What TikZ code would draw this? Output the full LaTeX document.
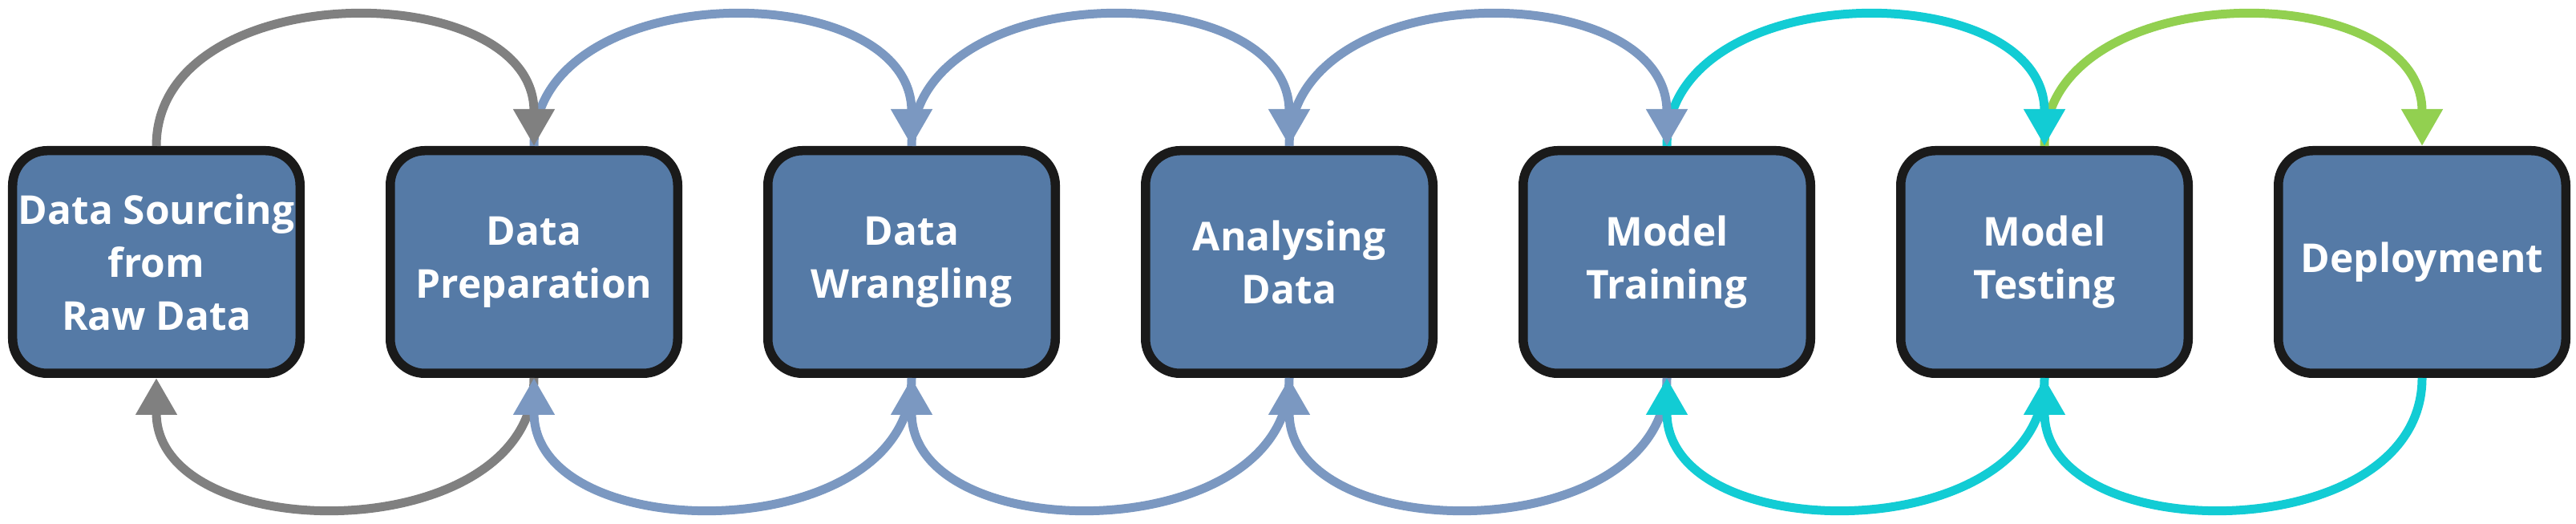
\documentclass[tikz,border=0pt]{standalone}
\usepackage{fontspec}
\setmainfont{Open Sans}
\usetikzlibrary{arrows.meta}
\definecolor{boxfill}{HTML}{557AA6}
\definecolor{boxline}{HTML}{1A1A1A}
\definecolor{flowgray}{HTML}{808080}
\definecolor{flowblue}{HTML}{7B98C1}
\definecolor{flowcyan}{HTML}{12CCD4}
\definecolor{flowgreen}{HTML}{92D050}
\begin{document}
\begin{tikzpicture}[>={Triangle[length=0.46cm,width=0.49cm]}, font=\fontsize{14.1}{18.8}\selectfont\bfseries, line join=round,
	stage/.style={draw=boxline, fill=boxfill, line width=0.115cm, rounded corners=0.43cm, minimum width=3.585cm, minimum height=2.775cm, text=white, align=center, inner sep=0pt},
	flow/.style={->, line width=0.11cm}]
	\useasboundingbox (0,0) rectangle (32.13,6.53);
	\def\dx{4.71} \def\yc{3.265} \def\loose{1.16}
	% stages
	\foreach \i/\txt in {1/{Data Sourcing\\from\\Raw Data}, 2/{Data\\Preparation}, 3/{Data\\Wrangling}, 4/{Analysing\\Data}, 5/{Model\\Training}, 6/{Model\\Testing}, 7/{Deployment}}
		\node[stage] (s\i) at ({1.95+(\i-1)*\dx},\yc) {\txt};
	% forward arcs (top)
	\foreach \a/\b/\c in {6/7/flowgreen, 5/6/flowcyan, 4/5/flowblue, 3/4/flowblue, 2/3/flowblue, 1/2/flowgray}
		\draw[flow,\c] (s\a.north) to[out=90,in=90,looseness=\loose] (s\b.north);
	% backward arcs (bottom)
	\foreach \a/\b/\c in {2/1/flowgray, 3/2/flowblue, 4/3/flowblue, 5/4/flowblue, 6/5/flowcyan, 7/6/flowcyan}
		\draw[flow,\c] (s\a.south) to[out=-90,in=-90,looseness=\loose] (s\b.south);
\end{tikzpicture}
\end{document}
